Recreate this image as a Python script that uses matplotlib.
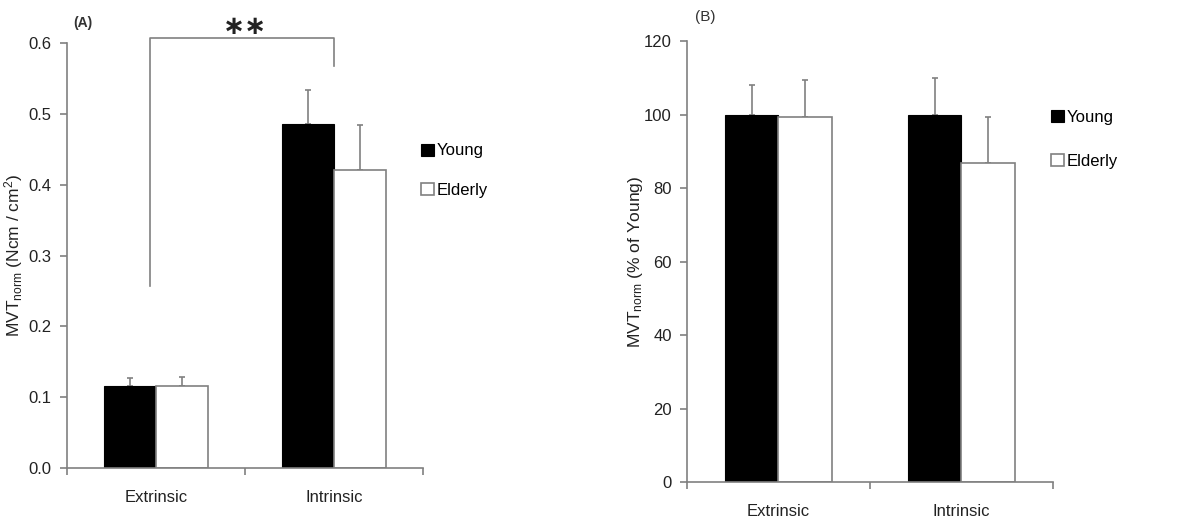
import matplotlib
matplotlib.use("Agg")
import matplotlib.pyplot as plt
import numpy as np

plt.rcParams['font.family'] = ['Liberation Sans', 'DejaVu Sans']
plt.rcParams['mathtext.fontset'] = 'custom'
plt.rcParams['mathtext.rm'] = 'Liberation Sans'
plt.rcParams['mathtext.it'] = 'Liberation Sans'

# Datos
categorias = ['Extrinsic', 'Intrinsic']
grupos = ['Young', 'Elderly']

# (A) MVT normalizado (Ncm / cm^2)
young_a = [0.116, 0.485]
young_a_err = [0.011, 0.049]
elderly_a = [0.116, 0.421]
elderly_a_err = [0.013, 0.063]

# (B) % de Young
young_b = [100.0, 100.0]
young_b_err = [8.0, 9.9]
elderly_b = [99.2, 86.9]
elderly_b_err = [10.2, 12.5]

gris = '#808080'
ancho = 0.29

fig = plt.figure(figsize=(11.89, 5.29), dpi=100)
ax_a = fig.add_axes([0.0564, 0.1153, 0.2994, 0.8034])
ax_b = fig.add_axes([0.5778, 0.0888, 0.3078, 0.8337])


def dibujar(ax, young, young_err, elderly, elderly_err, ymax, paso, fmt, lab_y, esp, sep):
    x = np.arange(len(categorias))
    ax.bar(x - ancho / 2, young, ancho, color='black', edgecolor='black',
           linewidth=0.8, label=grupos[0], zorder=2)
    ax.bar(x + ancho / 2, elderly, ancho, color='white', edgecolor=gris,
           linewidth=1.2, label=grupos[1], zorder=2)
    ax.errorbar(x - ancho / 2, young, yerr=[np.zeros(2), young_err], fmt='none',
                ecolor=gris, elinewidth=1.2, capsize=2.5, capthick=1.2, zorder=1)
    ax.errorbar(x + ancho / 2, elderly, yerr=[np.zeros(2), elderly_err], fmt='none',
                ecolor=gris, elinewidth=1.2, capsize=2.5, capthick=1.2, zorder=1)

    ax.set_xlim(-0.5, 1.5)
    ax.set_ylim(0, ymax)
    ax.set_yticks(np.arange(0, ymax + paso / 2, paso))
    ax.set_yticklabels([fmt.format(v) for v in np.arange(0, ymax + paso / 2, paso)])
    ax.set_xticks(x)
    ax.set_xticklabels(categorias, fontsize=12)
    ax.set_xticks([-0.5, 0.5, 1.5], minor=True)
    ax.tick_params(axis='x', which='major', length=0, pad=16, colors='#222222')
    ax.tick_params(axis='x', which='minor', length=5, width=1.2, color=gris)
    ax.tick_params(axis='y', length=5, width=1.2, color=gris, labelsize=12,
                   labelcolor='#222222', pad=6)
    for lado in ['top', 'right']:
        ax.spines[lado].set_visible(False)
    for lado in ['left', 'bottom']:
        ax.spines[lado].set_color(gris)
        ax.spines[lado].set_linewidth(1.2)
    ax.set_ylabel(lab_y, fontsize=12.5, color='#222222')

    ax.legend(loc='center left', bbox_to_anchor=esp, frameon=False, fontsize=12,
              handlelength=0.75, handleheight=0.75, handletextpad=0.2,
              labelspacing=sep, borderpad=0, borderaxespad=0)


dibujar(ax_a, young_a, young_a_err, elderly_a, elderly_a_err, 0.6, 0.1, '{:.1f}',
        'MVT$_{\\mathregular{norm}}$ (Ncm / cm$^{\\mathregular{2}}$)', (0.995, 0.70), 1.45)
dibujar(ax_b, young_b, young_b_err, elderly_b, elderly_b_err, 120, 20, '{:.0f}',
        'MVT$_{\\mathregular{norm}}$ (% of Young)', (0.995, 0.777), 1.75)
ax_a.yaxis.set_label_coords(-0.118, 0.5)
ax_b.yaxis.set_label_coords(-0.115, 0.5)

# Significancia en (A)
ax_a.plot([-0.035, -0.035, 1.0, 1.0], [0.257, 0.607, 0.607, 0.567],
          color=gris, linewidth=1.2, clip_on=False)
ax_a.text(0.5, 0.622, '∗∗', ha='center', va='center', fontsize=19,
          color='#222222', family='DejaVu Sans', fontweight='bold', clip_on=False)

fig.text(83 / 1189, 1 - 23 / 529, '(A)', fontsize=10, fontweight='bold',
         color='#333333', ha='center', va='center')
fig.text(705 / 1189, 1 - 17 / 529, '(B)', fontsize=11, color='#333333',
         ha='center', va='center')

plt.savefig('out.png', dpi=100)
